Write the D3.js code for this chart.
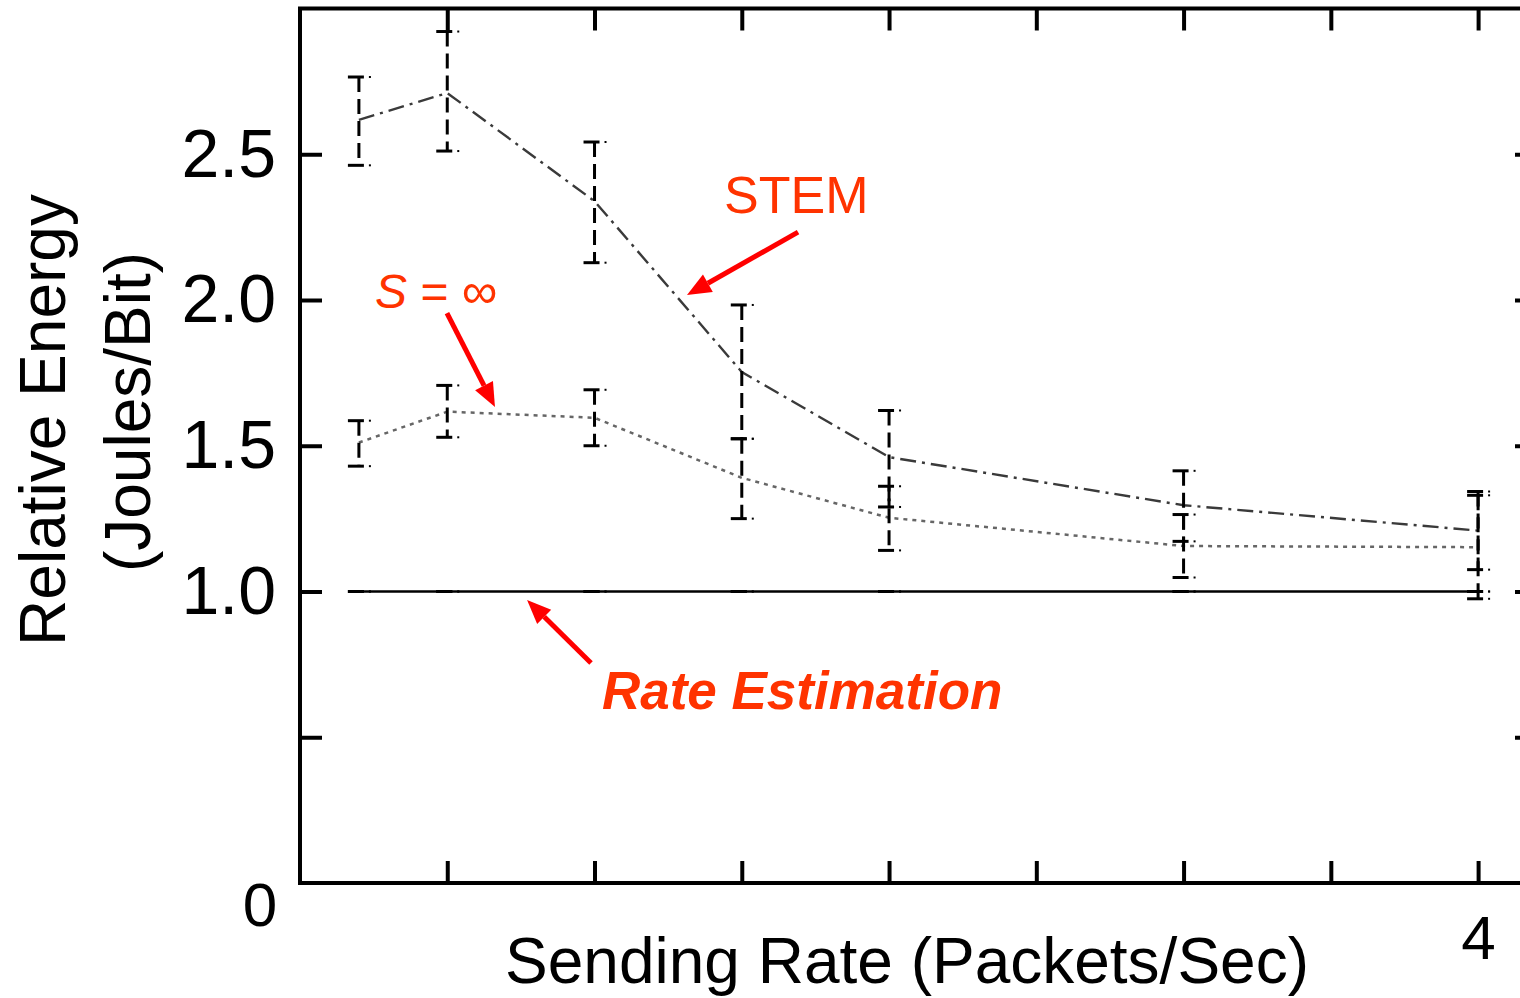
<!DOCTYPE html>
<html>
<head>
<meta charset="utf-8">
<script src="https://cdn.jsdelivr.net/npm/d3@7"></script>
<style>
  html, body { margin: 0; padding: 0; background: #fff; }
  svg { display: block; font-family: "Liberation Sans", Arial, sans-serif; }
</style>
</head>
<body>
<svg id="chart" width="1520" height="998"></svg>
<script>
// ---- data ----
const xVals     = [0.2, 0.5, 1.0, 1.5, 2.0, 3.0, 4.0];
const stemMean  = [2.618, 2.710, 2.339, 1.753, 1.461, 1.296, 1.209];
const stemLow   = [2.462, 2.511, 2.128, 1.524, 1.290, 1.172, 1.075];
const stemHigh  = [2.765, 2.921, 2.542, 1.983, 1.621, 1.414, 1.343];
const sinfMean  = [1.511, 1.617, 1.596, 1.390, 1.253, 1.156, 1.152];
const sinfLow   = [1.430, 1.529, 1.500, 1.250, 1.141, 1.048, 0.975];
const sinfHigh  = [1.586, 1.707, 1.692, 1.524, 1.361, 1.264, 1.330];
const rateMean  = [1.0, 1.0, 1.0, 1.0, 1.0, 1.0, 1.0];
const yTickVals = [0.5, 1.0, 1.5, 2.0, 2.5];
const yTickLabels = ["", "1.0", "1.5", "2.0", "2.5"];
const xTickVals = [0.5, 1.0, 1.5, 2.0, 2.5, 3.0, 3.5, 4.0];
const xTickLabels = ["", "", "", "", "", "", "", "4"];
const xDomain = [0, 4.2];
const yDomain = [0, 3];

// annotations in data units
const annotations = [
  { text: "STEM", x: 1.44, y: 2.298, from: [1.691, 2.233], to: [1.314, 2.017], weight: "normal", style: "normal", size: 52 },
  { text: "Rate Estimation", x: 1.025, y: 0.597, from: [0.988, 0.755], to: [0.771, 0.971], weight: "bold", style: "italic", size: 53 },
];
const sInf = { x: 0.255, y: 1.973, from: [0.499, 1.955], to: [0.662, 1.633] };

// ---- layout ----
const svg = d3.select("#chart");
const pLeft = 300, pRight = 1537, pTop = 8.5, pBottom = 883;
const x = d3.scaleLinear().domain(xDomain).range([pLeft, pRight]);
const y = d3.scaleLinear().domain(yDomain).range([pBottom, pTop]);
const textRed = "#ff3300", arrowRed = "#ff0000";

// frame
svg.append("rect")
  .attr("x", pLeft).attr("y", pTop)
  .attr("width", pRight - pLeft).attr("height", pBottom - pTop)
  .attr("fill", "none").attr("stroke", "#000").attr("stroke-width", 4);

function styleAxis(g, size) {
  g.select(".domain").remove();
  g.selectAll(".tick line").attr("stroke", "#000").attr("stroke-width", 4);
  g.selectAll(".tick text").attr("fill", "#000").attr("font-size", size || 62)
    .attr("font-family", "'Liberation Sans', Arial, sans-serif");
}

svg.append("g").attr("transform", `translate(${pLeft},0)`)
  .call(d3.axisLeft(y).tickValues(yTickVals).tickSizeInner(-22).tickSizeOuter(0).tickPadding(24)
    .tickFormat((d, i) => yTickLabels[i]))
  .call(g => styleAxis(g, 68));
svg.append("g").attr("transform", `translate(${pRight},0)`)
  .call(d3.axisRight(y).tickValues(yTickVals).tickSizeInner(-22).tickSizeOuter(0).tickFormat(""))
  .call(g => styleAxis(g));
svg.append("g").attr("transform", `translate(0,${pBottom})`)
  .call(d3.axisBottom(x).tickValues(xTickVals).tickSizeInner(-22).tickSizeOuter(0).tickPadding(32)
    .tickFormat((d, i) => xTickLabels[i]))
  .call(g => styleAxis(g, 62));
svg.append("g").attr("transform", `translate(0,${pTop})`)
  .call(d3.axisTop(x).tickValues(xTickVals).tickSizeInner(-22).tickSizeOuter(0).tickFormat(""))
  .call(g => styleAxis(g));

// "0" corner label
svg.append("text").attr("x", 260).attr("y", 926).attr("text-anchor", "middle")
  .attr("font-size", 62).text("0");

// axis titles
svg.append("text").attr("x", 907).attr("y", 983).attr("text-anchor", "middle")
  .attr("font-size", 64).text("Sending Rate (Packets/Sec)");
svg.append("text").attr("transform", "translate(65,420) rotate(-90)").attr("text-anchor", "middle")
  .attr("font-size", 64).text("Relative Energy");
svg.append("text").attr("transform", "translate(150,412) rotate(-90)").attr("text-anchor", "middle")
  .attr("font-size", 64).text("(Joules/Bit)");

// series lines
const line = d3.line().x(d => x(d[0])).y(d => y(d[1]));
const zip = (a, b) => a.map((v, i) => [v, b[i]]);

svg.append("path").datum(zip(xVals, rateMean)).attr("d", line)
  .attr("fill", "none").attr("stroke", "#000").attr("stroke-width", 2.5);
svg.append("path").datum(zip(xVals, stemMean)).attr("d", line)
  .attr("fill", "none").attr("stroke", "#3a3a3a").attr("stroke-width", 2.4)
  .attr("stroke-dasharray", "16,6,3,6");
svg.append("path").datum(zip(xVals, sinfMean)).attr("d", line)
  .attr("fill", "none").attr("stroke", "#666").attr("stroke-width", 2.5)
  .attr("stroke-dasharray", "4,5");

// error bars
function errorBars(lo, hi, dashed) {
  const g = svg.append("g");
  const data = xVals.map((v, i) => ({ x: v, lo: lo[i], hi: hi[i] }));
  g.selectAll("line.v").data(data).join("line").attr("class", "v")
    .attr("x1", d => x(d.x)).attr("x2", d => x(d.x))
    .attr("y1", d => y(d.hi)).attr("y2", d => y(d.lo))
    .attr("stroke", "#000").attr("stroke-width", 3)
    .attr("stroke-dasharray", dashed ? "15,7" : null);
  const caps = data.flatMap(d => [{ x: d.x, v: d.hi }, { x: d.x, v: d.lo }]);
  g.selectAll("line.c").data(caps).join("line").attr("class", "c")
    .attr("x1", d => x(d.x) - 11).attr("x2", d => x(d.x) + 5)
    .attr("y1", d => y(d.v)).attr("y2", d => y(d.v))
    .attr("stroke", "#000").attr("stroke-width", 3);
  g.selectAll("rect.dot").data(caps).join("rect").attr("class", "dot")
    .attr("x", d => x(d.x) + 10).attr("y", d => y(d.v) - 1)
    .attr("width", 2).attr("height", 2).attr("fill", "#000");
}
errorBars(rateMean, rateMean, false);
errorBars(stemLow, stemHigh, true);
errorBars(sinfLow, sinfHigh, true);

// arrows
function arrow(from, to) {
  const x1 = x(from[0]), y1 = y(from[1]), x2 = x(to[0]), y2 = y(to[1]);
  const ang = Math.atan2(y2 - y1, x2 - x1);
  const L = 24, W = 10;
  const bx = x2 - L * Math.cos(ang), by = y2 - L * Math.sin(ang);
  svg.append("line").attr("x1", x1).attr("y1", y1).attr("x2", bx).attr("y2", by)
    .attr("stroke", arrowRed).attr("stroke-width", 5);
  const px = -Math.sin(ang) * W, py = Math.cos(ang) * W;
  svg.append("polygon")
    .attr("points", `${x2},${y2} ${bx + px},${by + py} ${bx - px},${by - py}`)
    .attr("fill", arrowRed);
}

annotations.forEach(a => {
  svg.append("text").attr("x", x(a.x)).attr("y", y(a.y))
    .attr("font-size", a.size).attr("font-weight", a.weight).attr("font-style", a.style)
    .attr("fill", textRed).text(a.text);
  arrow(a.from, a.to);
});

const st = svg.append("text").attr("x", x(sInf.x)).attr("y", y(sInf.y))
  .attr("font-size", 48).attr("fill", textRed);
st.append("tspan").attr("font-style", "italic").text("S");
st.append("tspan").text(" = ");
st.append("tspan").attr("font-size", 50).text("∞");
arrow(sInf.from, sInf.to);
</script>
</body>
</html>
